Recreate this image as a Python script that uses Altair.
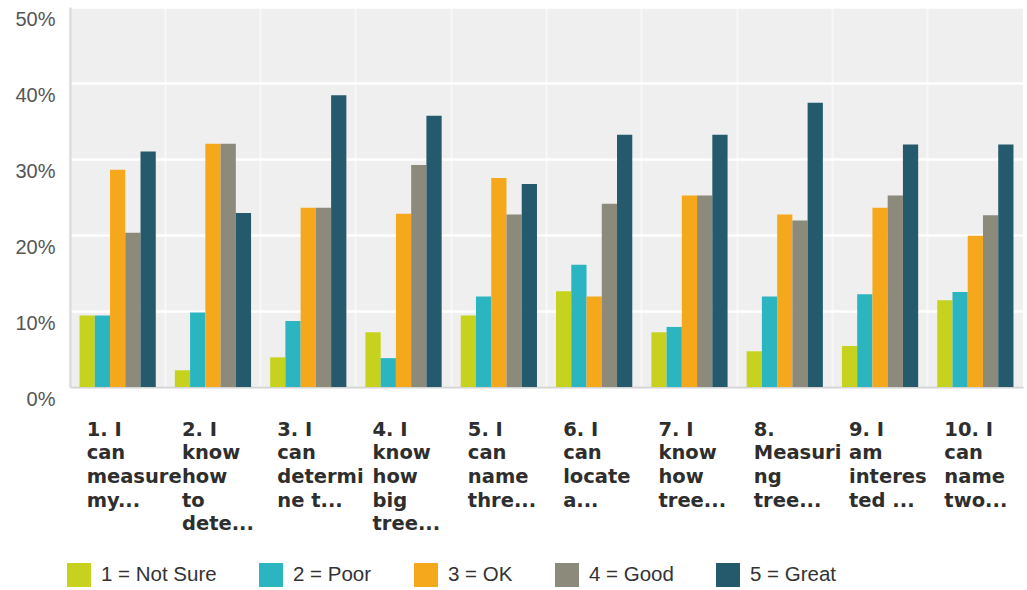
import altair as alt
import pandas as pd

# Survey statements, one list of wrapped lines per question (as shown under the axis)
questions = [
    ["1. I", "can", "measure", "my..."],
    ["2. I", "know", "how", "to", "dete..."],
    ["3. I", "can", "determi", "ne t..."],
    ["4. I", "know", "how", "big", "tree..."],
    ["5. I", "can", "name", "thre..."],
    ["6. I", "can", "locate", "a..."],
    ["7. I", "know", "how", "tree..."],
    ["8.", "Measuri", "ng", "tree..."],
    ["9. I", "am", "interes", "ted ..."],
    ["10. I", "can", "name", "two..."],
]

ratings = ["1 = Not Sure", "2 = Poor", "3 = OK", "4 = Good", "5 = Great"]
colors = ["#c6d21e", "#2bb5c1", "#f6a81c", "#8c8a7b", "#245a6b"]

# Share of responses (%) per rating, one value per question
not_sure = [9.4, 2.2, 3.9, 7.2, 9.4, 12.6, 7.2, 4.7, 5.4, 11.4]
poor     = [9.4, 9.8, 8.7, 3.8, 11.9, 16.1, 7.9, 11.9, 12.2, 12.5]
ok       = [28.6, 32.0, 23.6, 22.8, 27.5, 11.9, 25.2, 22.7, 23.6, 19.9]
good     = [20.3, 32.0, 23.6, 29.2, 22.7, 24.1, 25.2, 21.9, 25.2, 22.6]
great    = [31.0, 22.9, 38.4, 35.7, 26.7, 33.2, 33.2, 37.4, 31.9, 31.9]

series = [not_sure, poor, ok, good, great]
question_keys = ["|".join(q) for q in questions]

rows = []
for qi, key in enumerate(question_keys):
    for ri, rating in enumerate(ratings):
        rows.append({"question": key, "rating": rating, "value": series[ri][qi] / 100})
df = pd.DataFrame(rows)

x = alt.X(
    "question:N",
    sort=question_keys,
    scale=alt.Scale(paddingInner=0.2, paddingOuter=0.1),
    axis=alt.Axis(
        title=None,
        labelExpr="split(datum.label, '|')",
        labelAngle=0,
        labelAlign="left",
        labelBaseline="top",
        labelFont="DejaVu Sans",
        labelFontWeight="bold",
        labelFontSize=19.5,
        labelColor="#2e2e2e",
        labelLineHeight=23.7,
        labelPadding=33,
        labelOffset=-31,
        labelOverlap=False,
        labelLimit=300,
        bandPosition=-0.125,
        ticks=False,
        grid=True,
        gridColor="#f8f8f8",
        gridWidth=2,
        domainColor="#d4d4d4",
        domainWidth=2,
    ),
)

y = alt.Y(
    "value:Q",
    scale=alt.Scale(domain=[0, 0.5]),
    axis=alt.Axis(
        title=None,
        format=".0%",
        values=[0, 0.1, 0.2, 0.3, 0.4, 0.5],
        labelFont="Liberation Sans",
        labelFontSize=20,
        labelColor="#555555",
        labelBaseline="top",
        labelOffset=2,
        labelPadding=15,
        ticks=False,
        gridColor="#ffffff",
        gridWidth=2.5,
        domainColor="#d8d8d8",
        domainWidth=2,
    ),
)

chart = (
    alt.Chart(df)
    .mark_bar(strokeWidth=0)
    .encode(
        x=x,
        xOffset=alt.XOffset("rating:N", sort=ratings,
                            scale=alt.Scale(paddingInner=0, paddingOuter=0)),
        y=y,
        color=alt.Color(
            "rating:N",
            sort=ratings,
            scale=alt.Scale(domain=ratings, range=colors),
            legend=alt.Legend(
                title=None,
                orient="none",
                legendX=-3,
                legendY=556,
                direction="horizontal",
                symbolType="square",
                symbolSize=576,
                symbolStrokeWidth=0,
                symbolOpacity=1,
                labelFont="Liberation Sans",
                labelFontSize=20.5,
                labelColor="#333333",
                labelOffset=10,
                columnPadding=42,
                padding=0,
            ),
        ),
    )
    .properties(
        width=953,
        height=380,
        padding={"left": 70, "top": 7, "right": 4, "bottom": 203},
        autosize=alt.AutoSizeParams(type="none"),
        background="#ffffff",
    )
    .configure_view(fill="#efefef", strokeWidth=0)
)

chart.save("out.html", embed_options={"renderer": "svg", "actions": False})
